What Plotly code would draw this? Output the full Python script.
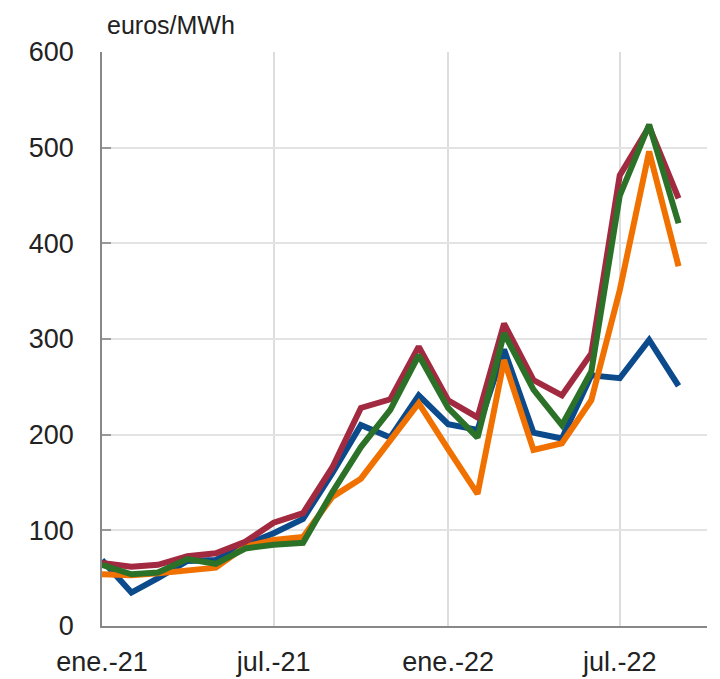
import plotly.graph_objects as go

months = ["2021-01-01", "2021-02-01", "2021-03-01", "2021-04-01", "2021-05-01", "2021-06-01",
          "2021-07-01", "2021-08-01", "2021-09-01", "2021-10-01", "2021-11-01", "2021-12-01",
          "2022-01-01", "2022-02-01", "2022-03-01", "2022-04-01", "2022-05-01", "2022-06-01",
          "2022-07-01", "2022-08-01", "2022-09-01"]

blue = [69, 35, 50, 68, 69, 85, 97, 112, 160, 210, 197, 241, 211, 205, 289, 202, 196, 262, 259, 299, 251]
orange = [54, 53, 55, 58, 61, 83, 90, 93, 135, 154, 193, 233, 185, 138, 278, 184, 191, 236, 351, 496, 376]
red = [66, 62, 64, 73, 76, 88, 108, 118, 166, 228, 237, 292, 236, 218, 316, 257, 241, 285, 471, 522, 447]
green = [64, 54, 56, 70, 65, 81, 85, 87, 140, 187, 226, 283, 228, 197, 306, 247, 210, 266, 450, 524, 421]

series = [("blue", blue, "#0b4a8b"), ("orange", orange, "#f07000"),
          ("red", red, "#a22a40"), ("green", green, "#2b7127")]

xtick_vals = ["2021-01-01", "2021-07-01", "2022-01-01", "2022-07-01"]
xtick_text = ["ene.-21", "jul.-21", "ene.-22", "jul.-22"]
ytick_vals = [0, 100, 200, 300, 400, 500, 600]

fig = go.Figure()
for name, vals, col in series:
    fig.add_trace(go.Scatter(x=months, y=vals, mode="lines", name=name,
                             line=dict(color=col, width=6), showlegend=False))

fig.update_layout(
    width=720, height=679,
    margin=dict(l=102, r=13, t=52, b=53, autoexpand=False),
    paper_bgcolor="white", plot_bgcolor="white",
    font=dict(family="Liberation Sans, Arial, sans-serif", size=27, color="#222222"),
)
fig.update_xaxes(
    type="date", range=["2021-01-01", "2022-10-01"],
    tickvals=xtick_vals, ticktext=xtick_text,
    showgrid=True, gridcolor="#dddddd", gridwidth=1.5,
    showline=True, linecolor="#888888", linewidth=1.5,
    ticks="", ticklabelstandoff=11, zeroline=False, automargin=False,
)
fig.update_yaxes(
    range=[0, 600], tickvals=ytick_vals,
    showgrid=True, gridcolor="#e3e3e3", gridwidth=1.5,
    showline=True, linecolor="#888888", linewidth=1.5,
    ticks="inside", ticklen=9, tickcolor="#999999", tickwidth=1.5,
    ticklabelstandoff=21, zeroline=False, automargin=False,
)
fig.add_annotation(text="euros/MWh", xref="paper", yref="paper", x=0.005, y=1.0,
                   xanchor="left", yanchor="bottom", yshift=11, showarrow=False,
                   font=dict(size=25, color="#222222"))

fig.write_html("out.html", post_script="document.body.style.margin='0';",
               config={"displayModeBar": False})
